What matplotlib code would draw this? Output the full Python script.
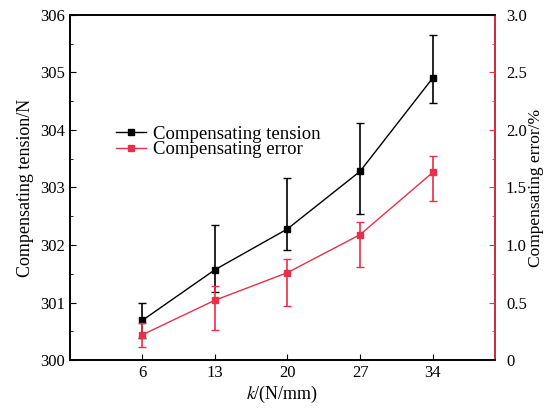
import numpy as np
import matplotlib.pyplot as plt
from matplotlib.lines import Line2D
from matplotlib.ticker import MultipleLocator, FuncFormatter

plt.rcParams['font.family'] = ['Liberation Serif', 'DejaVu Serif']
plt.rcParams['mathtext.fontset'] = 'stix'

k = [6, 13, 20, 27, 34]
tension = [300.69, 301.57, 302.28, 303.28, 304.90]
tension_up = [0.31, 0.77, 0.88, 0.84, 0.75]
tension_down = [0.30, 0.38, 0.36, 0.74, 0.44]
error = [0.22, 0.52, 0.76, 1.09, 1.63]
error_up = [0.10, 0.12, 0.12, 0.11, 0.14]
error_down = [0.11, 0.26, 0.29, 0.28, 0.25]

red = '#e8304a'

fig = plt.figure(figsize=(5.45, 4.12), dpi=100)
ax = fig.add_axes([0.128, 0.126, 0.78, 0.838])
ax2 = ax.twinx()

ax.errorbar(k, tension, yerr=[tension_down, tension_up], color='black',
            marker='s', ms=5, lw=1, capsize=3, elinewidth=1.2)
ax2.errorbar(k, error, yerr=[error_down, error_up], color=red,
             marker='s', ms=5, lw=1, capsize=3, elinewidth=1.2)

ax.set_xlim(-1, 40)
ax.set_ylim(300, 306)
ax2.set_ylim(0, 3.0)
ax.set_xticks(k)
ax.yaxis.set_major_locator(MultipleLocator(1))
ax.yaxis.set_minor_locator(MultipleLocator(0.5))
ax2.yaxis.set_major_locator(MultipleLocator(0.5))
ax2.yaxis.set_minor_locator(MultipleLocator(0.25))
ax2.yaxis.set_major_formatter(FuncFormatter(lambda v, p: '0' if v == 0 else f'{v:.1f}'))

ax.tick_params(direction='in', labelsize=12, length=4)
ax.tick_params(which='minor', direction='in', length=2.5)
ax2.tick_params(direction='in', labelsize=12, length=4, color=red, pad=8)
ax2.tick_params(which='minor', direction='in', length=2.5, color=red)
ax2.spines['right'].set_color(red)
for s in ['left', 'right', 'top', 'bottom']:
    ax.spines[s].set_linewidth(1.2)
    ax2.spines[s].set_linewidth(1.2)

ax.set_xlabel('$k$/(N/mm)', fontsize=13, labelpad=2)
ax.set_ylabel('Compensating tension/N', fontsize=13, labelpad=4)
ax2.set_ylabel('Compensating error/%', fontsize=12.5, labelpad=1)

h1 = Line2D([], [], color='black', marker='s', ms=5, lw=1)
h2 = Line2D([], [], color=red, marker='s', ms=5, lw=1)
ax.legend([h1, h2], ['Compensating tension', 'Compensating error'],
          loc='upper left', bbox_to_anchor=(0.09, 0.70), frameon=False,
          fontsize=13.5, handlelength=1.6, handletextpad=0.4,
          labelspacing=-0.1, borderaxespad=0)

fig.savefig('out.png', dpi=100)
